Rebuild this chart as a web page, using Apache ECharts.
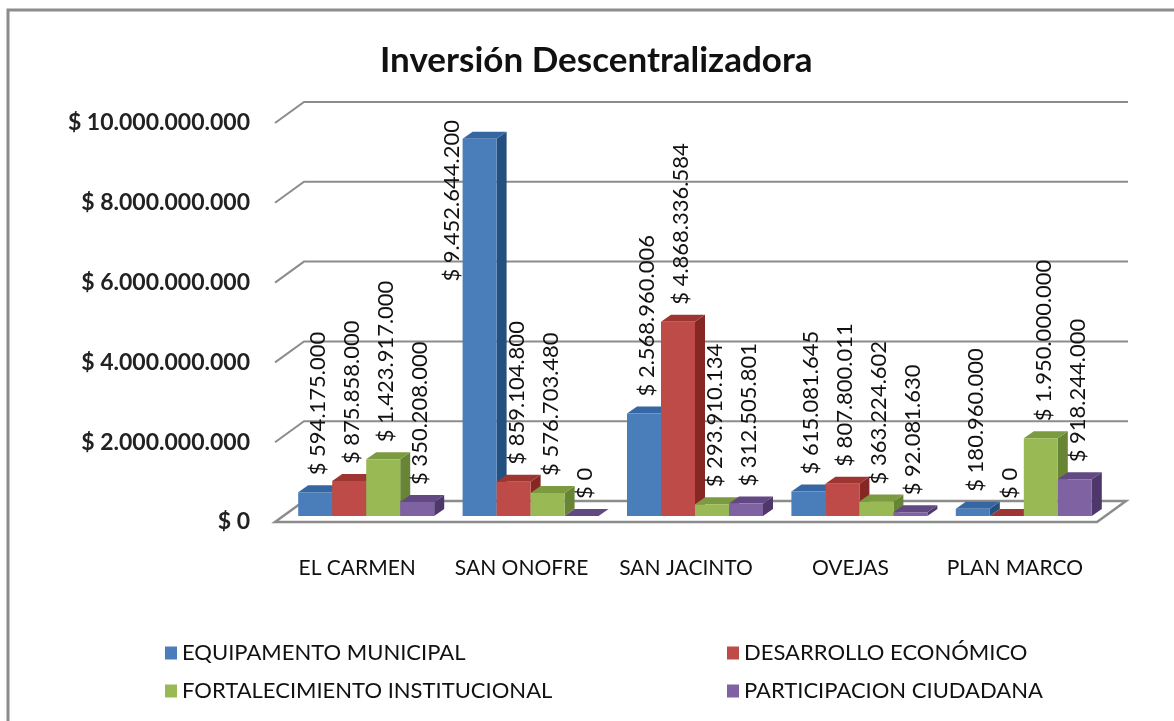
<!DOCTYPE html>
<html>
<head>
<meta charset="utf-8">
<script src="https://cdn.jsdelivr.net/npm/echarts@6/dist/echarts.min.js"></script>
<style>
  html, body { margin: 0; background: #fff; }
  #chart { width: 1174px; height: 721px; }
</style>
</head>
<body>
<div id="chart"></div>
<script>
const CATEGORIES = ['EL CARMEN', 'SAN ONOFRE', 'SAN JACINTO', 'OVEJAS', 'PLAN MARCO'];
const SERIES_NAMES = ['EQUIPAMENTO MUNICIPAL', 'DESARROLLO ECONÓMICO', 'FORTALECIMIENTO INSTITUCIONAL', 'PARTICIPACION CIUDADANA'];

const EQUIPAMENTO = [594175000, 9452644200, 2568960006, 615081645, 180960000];
const DESARROLLO = [875858000, 859104800, 4868336584, 807800011, 0];
const FORTALECIMIENTO = [1423917000, 576703480, 293910134, 363224602, 1950000000];
const PARTICIPACION = [350208000, 0, 312505801, 92081630, 918244000];

const Y_MIN = 0;
const Y_MAX = 10000000000;
const Y_STEP = 2000000000;

const VALUES = [EQUIPAMENTO, DESARROLLO, FORTALECIMIENTO, PARTICIPACION];

const FONT = 'Lato, "Noto Sans", sans-serif';
const LABEL_SIZE = 22;
// 3d look: bar size, depth offsets, wall depth
const BAR_W = 34, SHIFT_X = 9, SHIFT_Y = 6, DX = 10, DY = 7, WALL_DX = 29, WALL_DY = 21;
const GRID_COLOR = '#8c8c8c';

const COLORS = [
  { front: '#4a7ebb', top: '#3767a2', side: '#24507f' },
  { front: '#be4b48', top: '#9d3532', side: '#862724' },
  { front: '#98b954', top: '#7c9b40', side: '#688536' },
  { front: '#7e62a1', top: '#624984', side: '#4e386b' },
];

const money = (v) => '$ ' + String(Math.round(v)).replace(/\B(?=(\d{3})+(?!\d))/g, '.');

const measure = (() => {
  const ctx = document.createElement('canvas').getContext('2d');
  ctx.font = LABEL_SIZE + 'px ' + FONT;
  return (t) => ctx.measureText(t).width;
})();

const barBox = (api, cat, val, s) => {
  const base = api.coord([cat, 0]);
  const top = api.coord([cat, val]);
  const x = base[0] + SHIFT_X + (s - 2) * BAR_W;
  return { x, yTop: top[1] - SHIFT_Y, yBot: base[1] - SHIFT_Y };
};

// floor + back wall grid lines
const renderWalls = (params, api) => {
  const cs = params.coordSys;
  const y0 = api.coord([0, Y_MIN])[1];
  const x1 = cs.x + cs.width;
  const children = [{
    type: 'polygon',
    shape: { points: [[cs.x, y0], [x1, y0], [x1 + WALL_DX, y0 - WALL_DY], [cs.x + WALL_DX, y0 - WALL_DY]] },
    style: { fill: '#fff', stroke: GRID_COLOR, lineWidth: 2.5 },
  }];
  for (let v = Y_MIN + Y_STEP; v <= Y_MAX; v += Y_STEP) {
    const y = api.coord([0, v])[1];
    children.push({
      type: 'polyline',
      shape: { points: [[cs.x, y], [cs.x + WALL_DX, y - WALL_DY], [x1 + WALL_DX + 2, y - WALL_DY]] },
      style: { fill: 'none', stroke: GRID_COLOR, lineWidth: 2 },
    });
  }
  return { type: 'group', children };
};

const renderBar = (params, api, s) => {
  const b = barBox(api, api.value(0), api.value(1), s);
  const c = COLORS[s];
  const r = b.x + BAR_W;
  return {
    type: 'group',
    children: [
      {
        type: 'polygon',
        shape: { points: [[r, b.yTop], [r + DX, b.yTop - DY], [r + DX, b.yBot - DY], [r, b.yBot]] },
        style: { fill: c.side },
      },
      {
        type: 'polygon',
        shape: { points: [[b.x, b.yTop], [r, b.yTop], [r + DX, b.yTop - DY], [b.x + DX, b.yTop - DY]] },
        style: { fill: c.top },
      },
      {
        type: 'rect',
        shape: { x: b.x, y: b.yTop, width: BAR_W, height: b.yBot - b.yTop },
        style: { fill: c.front },
      },
    ],
  };
};

const renderLabel = (params, api) => {
  const s = api.value(2);
  const val = api.value(1);
  const b = barBox(api, api.value(0), val, s);
  const text = money(val);
  const len = measure(text);
  let lx = b.x + BAR_W / 2 + 3;
  let ly = b.yTop - 17;
  const plotTop = params.coordSys.y;
  if (ly - len < plotTop - 5) {
    // no room above: put it beside the bar, like Excel does
    lx = b.x - 11;
    ly = plotTop - 3 + len;
  }
  return {
    type: 'text',
    x: lx,
    y: ly,
    rotation: Math.PI / 2,
    style: {
      text,
      fill: '#111',
      fontSize: LABEL_SIZE,
      fontFamily: FONT,
      align: 'left',
      verticalAlign: 'middle',
    },
  };
};

const labelData = [];
VALUES.forEach((arr, s) => arr.forEach((v, i) => labelData.push([i, v, s])));

const chart = echarts.init(document.getElementById('chart'));

const option = {
  animation: false,
  backgroundColor: '#fff',
  title: {
    text: 'Inversión Descentralizadora',
    left: 380,
    top: 43,
    padding: 0,
    textStyle: { fontFamily: FONT, fontSize: 35, fontWeight: 'bold', color: '#111' },
  },
  graphic: [{
    type: 'rect',
    silent: true,
    shape: { x: 8, y: 10, width: 1250, height: 800 },
    style: { fill: 'none', stroke: '#8c8c8c', lineWidth: 3 },
  }],
  legend: SERIES_NAMES.map((name, i) => ({
    data: [name],
    left: i % 2 ? 722 : 160,
    top: i < 2 ? 637 : 675,
    icon: 'rect',
    itemWidth: 12,
    itemHeight: 13,
    selectedMode: false,
    textStyle: { fontFamily: FONT, fontSize: 22, color: '#111' },
  })),
  grid: { left: 275, top: 123, width: 822, height: 399 },
  xAxis: {
    type: 'category',
    data: CATEGORIES,
    axisLine: { show: false },
    axisTick: { show: false },
    axisLabel: { interval: 0, fontFamily: FONT, fontSize: 21, color: '#111', margin: 36 },
  },
  yAxis: {
    type: 'value',
    min: Y_MIN,
    max: Y_MAX,
    interval: Y_STEP,
    axisLine: { show: false },
    axisTick: { show: false },
    splitLine: { show: false },
    axisLabel: {
      formatter: money,
      fontFamily: FONT,
      fontSize: 23,
      fontWeight: 'bold',
      color: '#222',
      margin: 25,
    },
  },
  series: [
    { type: 'custom', name: 'walls', z: 1, silent: true, data: [[0, 0]], renderItem: renderWalls },
    ...SERIES_NAMES.map((name, s) => ({
      type: 'custom',
      name,
      z: 2,
      itemStyle: { color: COLORS[s].front },
      data: VALUES[s].map((v, i) => [i, v]),
      renderItem: (params, api) => renderBar(params, api, s),
    })),
    { type: 'custom', name: 'labels', z: 3, silent: true, data: labelData, renderItem: renderLabel },
  ],
};

chart.setOption(option);
</script>
</body>
</html>
